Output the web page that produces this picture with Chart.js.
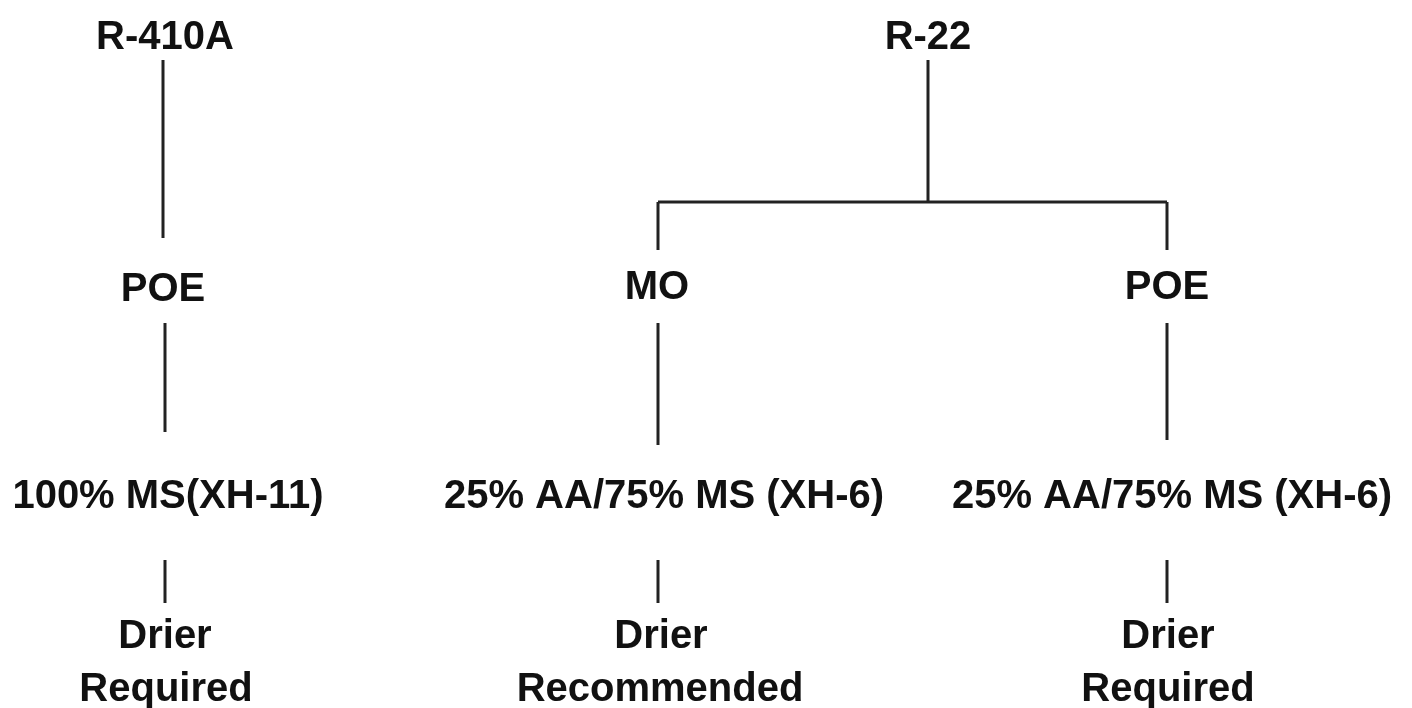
<!DOCTYPE html>
<html>
<head>
<meta charset="utf-8">
<script src="https://cdn.jsdelivr.net/npm/chart.js@4.4.1/dist/chart.umd.min.js"></script>
<style>
  html, body { margin: 0; padding: 0; background: #fff; }
  #wrap { width: 1412px; height: 708px; }
</style>
</head>
<body>
<div id="wrap"><canvas id="tree"></canvas></div>
<script>
// node labels and their positions (data units: x 0..1412, y 0..708 from top)
const nodeLabels = [
  "R-410A", "POE", "100% MS(XH-11)", "Drier", "Required",
  "R-22", "MO", "POE",
  "25% AA/75% MS (XH-6)", "25% AA/75% MS (XH-6)",
  "Drier", "Recommended", "Drier", "Required"
];
const nodeX = [165, 163, 168, 165, 166, 928, 657, 1167, 664, 1172, 661, 660, 1168, 1168];
const nodeY = [38, 290, 497, 637, 690, 38, 288, 288, 497, 497, 637, 690, 637, 690];

// connector segments
const linkX1 = [163, 165, 165, 928, 658, 658, 1167, 658, 1167, 658, 1167];
const linkY1 = [60, 323, 560, 60, 202, 202, 202, 323, 323, 560, 560];
const linkX2 = [163, 165, 165, 928, 1167, 658, 1167, 658, 1167, 658, 1167];
const linkY2 = [238, 432, 603, 202, 202, 250, 250, 445, 440, 603, 603];

const datasets = linkX1.map((x, i) => ({
  data: [{ x: x, y: linkY1[i] }, { x: linkX2[i], y: linkY2[i] }],
  borderColor: "#222",
  borderWidth: 3,
  pointRadius: 0,
  showLine: true,
  fill: false,
}));

// draw node texts at their data positions
const labelPlugin = {
  id: "nodeLabels",
  afterDatasetsDraw(chart) {
    const c = chart.ctx;
    const xs = chart.scales.x;
    const ys = chart.scales.y;
    c.save();
    c.fillStyle = "#111";
    c.textAlign = "center";
    c.textBaseline = "middle";
    c.font = "bold 40px 'Liberation Sans', Arial, sans-serif";
    nodeLabels.forEach((t, i) => {
      c.fillText(t, xs.getPixelForValue(nodeX[i]), ys.getPixelForValue(nodeY[i]));
    });
    c.restore();
  },
};

new Chart(document.getElementById("tree"), {
  type: "scatter",
  data: { datasets },
  options: {
    responsive: true,
    maintainAspectRatio: false,
    animation: false,
    layout: { padding: 0 },
    plugins: { legend: { display: false }, tooltip: { enabled: false } },
    scales: {
      x: { type: "linear", min: 0, max: 1412, display: false },
      y: { type: "linear", min: 0, max: 708, reverse: true, display: false },
    },
  },
  plugins: [labelPlugin],
});
</script>
</body>
</html>
